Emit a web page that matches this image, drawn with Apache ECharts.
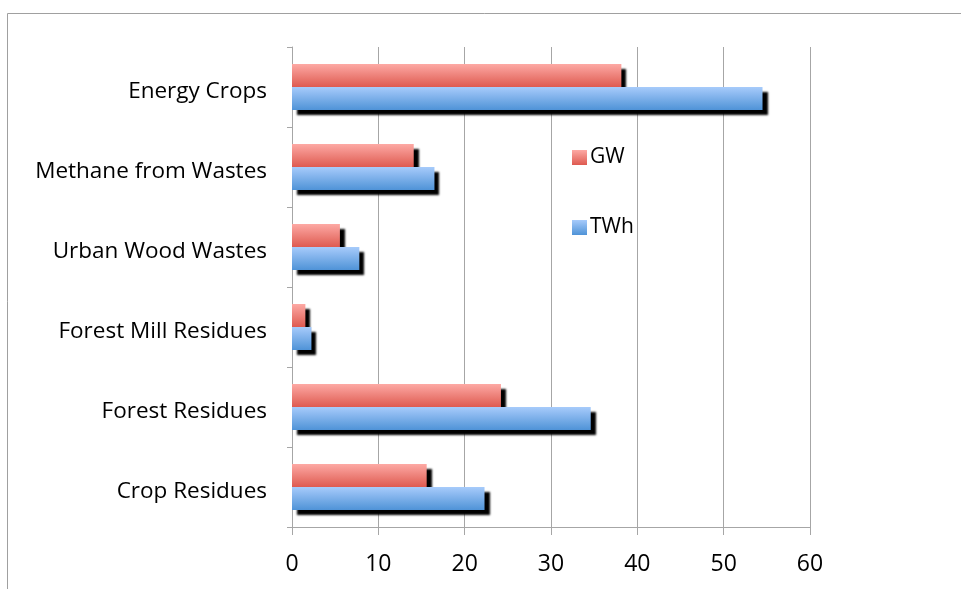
<!DOCTYPE html>
<html>
<head>
<meta charset="utf-8">
<style>
  html, body { margin: 0; padding: 0; background: #ffffff; }
  #chart { width: 961px; height: 589px; }
</style>
<script src="https://cdn.jsdelivr.net/npm/echarts@6/dist/echarts.min.js"></script>
</head>
<body>
<div id="chart"></div>
<script>
// Biomass resource categories (bottom to top on the axis)
const categories = ['Crop Residues', 'Forest Residues', 'Forest Mill Residues', 'Urban Wood Wastes', 'Methane from Wastes', 'Energy Crops'];
// Capacity and generation per category
const gwValues  = [15.6, 24.2, 1.55, 5.55, 14.1, 38.15];
const twhValues = [22.3, 34.6, 2.25, 7.8, 16.5, 54.5];
const xTicks = { min: 0, max: 60, interval: 10 };

const FONT = '"Open Sans", Lato, sans-serif';

const redFill = new echarts.graphic.LinearGradient(0, 0, 0, 1, [
  { offset: 0, color: '#fda9a4' },
  { offset: 1, color: '#de5a50' }
]);
const blueFill = new echarts.graphic.LinearGradient(0, 0, 0, 1, [
  { offset: 0, color: '#a7cbfb' },
  { offset: 1, color: '#4f93d7' }
]);
const barShadow = { shadowColor: '#000000', shadowBlur: 2, shadowOffsetX: 5, shadowOffsetY: 5 };

const chart = echarts.init(document.getElementById('chart'), null, { renderer: 'canvas' });
chart.setOption({
  animation: false,
  backgroundColor: '#ffffff',
  graphic: [{
    type: 'rect',
    shape: { x: 7.5, y: 13.5, width: 1200, height: 800 },
    style: { fill: 'none', stroke: '#a0a0a0', lineWidth: 1 },
    silent: true
  }],
  grid: { left: 292, right: 151, top: 47, bottom: 62, containLabel: false },
  legend: {
    orient: 'vertical',
    left: 572,
    top: 147,
    padding: 0,
    itemWidth: 15,
    itemHeight: 15,
    itemGap: 49,
    icon: 'rect',
    textStyle: { fontFamily: FONT, fontSize: 21, color: '#000000', padding: [2, 0, 0, -2] },
    data: ['GW', 'TWh']
  },
  xAxis: {
    type: 'value',
    min: xTicks.min,
    max: xTicks.max,
    interval: xTicks.interval,
    axisLine: { show: true, lineStyle: { color: '#a6a6a6', width: 1 } },
    axisTick: { show: true, length: 8, lineStyle: { color: '#a6a6a6' } },
    splitLine: { show: true, lineStyle: { color: '#a6a6a6', width: 1 } },
    axisLabel: { fontFamily: FONT, fontSize: 23, color: '#000000', margin: 26 }
  },
  yAxis: {
    type: 'category',
    data: categories,
    axisLine: { show: true, lineStyle: { color: '#a6a6a6', width: 1 } },
    axisTick: { show: true, length: 5, inside: false, alignWithLabel: false, lineStyle: { color: '#a6a6a6' } },
    axisLabel: {
      margin: 25,
      formatter: v => '{t|' + v + '}',
      rich: { t: { fontFamily: FONT, fontSize: 22.5, color: '#000000', padding: [10, 0, 0, 0] } }
    }
  },
  series: [
    {
      name: 'GW',
      type: 'bar',
      data: gwValues,
      barWidth: 23,
      barGap: '0%',
      itemStyle: Object.assign({ color: redFill }, barShadow)
    },
    {
      name: 'TWh',
      type: 'bar',
      data: twhValues,
      barWidth: 23,
      barGap: '0%',
      itemStyle: Object.assign({ color: blueFill }, barShadow)
    }
  ]
});
</script>
</body>
</html>
